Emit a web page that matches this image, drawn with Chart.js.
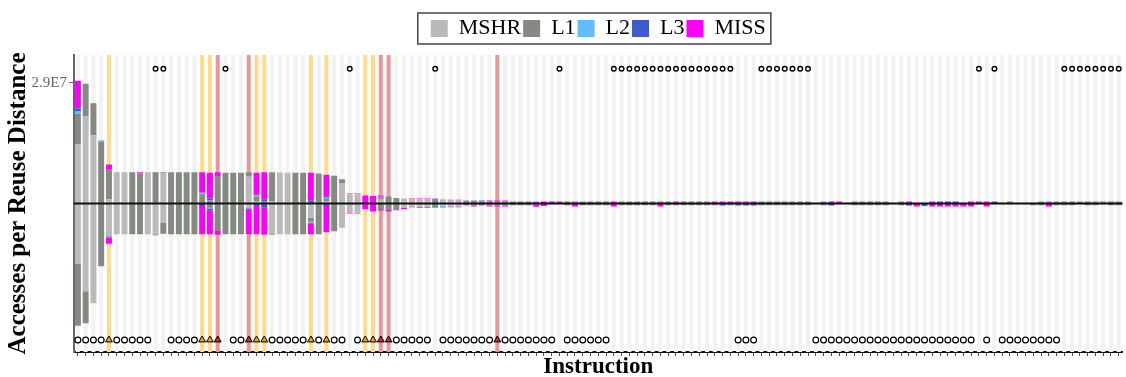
<!DOCTYPE html>
<html>
<head>
<meta charset="utf-8">
<script src="https://cdn.jsdelivr.net/npm/chart.js@4.4.1/dist/chart.umd.min.js"></script>
<style>
  html, body { margin: 0; padding: 0; background: #fff; overflow: hidden; }
  #wrap { width: 1128px; height: 377px; }
</style>
</head>
<body>
<div id="wrap"><canvas id="myChart" width="1128" height="377"></canvas></div>
<script>
const ctx = document.getElementById('myChart');

// one category per instruction (135 of them)
const instructions = [];
for (let i = 1; i <= 135; i++) instructions.push(String(i));

// accesses per reuse distance, in millions. upper half of each bar
const upMSHR = [14.2,20.9,16.4,0,1.0,7.5,7.5,0,0,7.5,
  0,7.2,0,0,0,0,0,0,0,0,
  0,0,6.5,0.5,0,0.5,7.2,7.4,0,0,
  0,0,0.5,0,4.8,2.2,2.2,0,0,1.0,
  0,0,1.2,1.0,1.0,1.0,0,1.0,0.7,0.7,
  0,0,0,0,0,0,0,0,0,0, 0,0,0,0,0,0,0,0,0,0,
  0,0,0,0,0,0,0,0,0,0, 0,0,0,0,0,0,0,0,0,0,
  0,0,0,0,0,0,0,0,0,0, 0,0,0,0,0,0,0,0,0,0,
  0,0,0,0,0,0,0,0,0,0, 0,0,0,0,0,0,0,0,0,0,
  0,0,0,0,0]
const upL1 = [7.4,7.9,7.7,14.9,7.1,0,0,7.5,7.2,0,
  7.5,0.3,7.5,7.5,7.5,7.5,2.2,0.6,6.5,7.4,
  7.4,7.4,1.0,1.2,0.5,7.0,0.2,0,7.4,7.4,
  0.2,7.2,0.7,6.7,1.0,0,0,0,0,0.4,
  1.7,1.3,0,0,0,0,1.2,0,0,0,
  0.7,0.7,0.5,0.5,0.5,0.5,0.5,0.5,0.5,0.5,
  0,0,0,0.5,0.5,0.5,0.5,0.5,0.5,0,
  0.5,0.5,0.5,0.5,0.5,0.5,0.5,0,0.5,0.5,
  0.5,0.5,0,0,0,0,0,0,0.5,0.5,
  0.5,0.5,0.5,0.5,0.5,0.2,0.5,0,0,0.2,
  0.5,0.5,0.5,0.5,0.5,0.2,0.5,0,0.2,0.2,
  0,0,0,0,0.2,0,0,0,0,0.2,
  0.5,0.2,0.2,0.2,0.5,0.5,0.5,0.5,0.5,0.5,
  0.5,0.5,0.5,0.5,0.5]
const upL2 = [0.5,0,0,0.3,0,0,0,0,0,0,
  0,0,0,0,0,0,0.4,0.1,0,0,
  0,0,0,0.2,0,0,0,0,0,0,
  0,0,0.2,0,0,0,0,0,0,0.2,
  0,0,0,0,0,0,0,0,0,0, 0,0,0,0,0,0,0,0,0,0,
  0,0,0,0,0,0,0,0,0,0, 0,0,0,0,0,0,0,0,0,0,
  0,0,0,0,0,0,0,0,0,0, 0,0,0,0,0,0,0,0,0,0,
  0,0,0,0,0,0,0,0,0,0, 0,0,0,0,0,0,0,0,0,0,
  0,0,0,0,0,0,0,0,0,0, 0,0,0,0,0]
const upL3 = [0.8,0,0,0,0,0,0,0,0,0,
  0,0,0,0,0,0,0,0.5,0,0,
  0,0,0,0.2,0.5,0,0,0,0,0,
  0.5,0,0.2,0,0,0,0,0,0,0,
  0,0,0,0,0,0,0,0,0,0,
  0,0,0.2,0,0,0,0,0,0,0,
  0,0,0,0,0,0,0,0,0,0, 0,0,0,0,0,0,0,0,0,0,
  0,0,0,0,0,0,0,0,0,0, 0,0,0,0,0,0,0,0,0,0,
  0,0,0,0,0,0,0,0,0,0,
  0,0.5,0.5,0.5,0,0,0,0,0.5,0,
  0,0,0,0,0,0,0,0,0,0, 0,0,0,0,0]
const upMISS = [6.6,0,0,0,1.3,0,0,0,0.3,0,
  0,0,0,0,0,0,4.9,6.2,1.0,0,
  0,0,0,5.3,6.5,0,0,0,0,0,
  6.7,0,5.3,0,0,0.2,0.2,1.9,1.8,0.3,
  0,0,0,0.2,0.2,0.2,0,0,0.2,0.2,
  0,0,0,0.2,0.2,0.2,0,0,0,0,
  0.5,0.5,0.5,0,0,0,0,0,0,0.5,
  0,0,0,0,0,0,0,0.5,0,0,
  0,0,0.5,0.5,0.5,0.5,0.5,0.5,0,0,
  0,0,0,0,0,0,0,0.5,0.5,0,
  0,0,0,0,0,0,0,0.5,0,0,
  0.5,0,0,0,0,0.5,0.5,0.5,0,0,
  0,0,0,0,0,0,0,0,0,0, 0,0,0,0,0]

// lower half of each bar (drawn below the zero line)
const lowMSHR = [14.4,21.1,24.0,0,7.8,7.4,7.4,0,0,7.4,
  7.4,4.7,0,0,0,0,0,0,0,0.2,
  0,0,1.0,0,0,7.4,7.4,7.4,0,0,
  3.4,0,0,0,5.8,2.2,2.2,0,0,0,
  0,0,1.1,1.0,0.8,0.8,0,0.5,0.7,0.7,
  0,0,0,0,0,0,0,0,0,0, 0,0,0,0,0,0,0,0,0,0,
  0,0,0,0,0,0,0,0,0,0, 0,0,0,0,0,0,0,0,0,0,
  0,0,0,0,0,0,0,0,0,0, 0,0,0,0,0,0,0,0,0,0,
  0,0,0,0,0,0,0,0,0,0, 0,0,0,0,0,0,0,0,0,0,
  0,0,0,0,0]
const lowL1 = [15.0,7.7,0,15.1,0.2,0,0,7.4,7.4,0,
  0.25,2.6,7.4,7.4,7.4,7.4,0,1.0,6.5,7.2,
  7.4,7.4,0,0,0,0.2,0,0,7.4,7.4,
  1.0,7.4,0,6.7,0,0,0,0.2,0,1.4,
  1.5,1.4,0,0,0,0,1.0,0,0,0,
  0.5,0.5,0.5,0.5,0.5,0.5,0.45,0.45,0.45,0.2,
  0,0.2,0.2,0.45,0,0.45,0.45,0.45,0.45,0,
  0.45,0.45,0.45,0.45,0.45,0,0.45,0.45,0.45,0.45,
  0.45,0.45,0.45,0,0.45,0,0,0,0.45,0.45,
  0.45,0.45,0.45,0.45,0.45,0.2,0.45,0,0.2,0.2,
  0.45,0.45,0.45,0.45,0.45,0.2,0.45,0,0,0,
  0,0,0,0,0,0,0.2,0,0.2,0.2,
  0.2,0.2,0.2,0.45,0.45,0,0.45,0.45,0.45,0.2,
  0.45,0.45,0.2,0.45,0.45]
const lowL2 = [0,0,0,0,0.1,0,0,0,0,0,
  0,0,0,0,0,0,0,0.2,0,0,
  0,0,0.2,0,0,0,0,0,0,0,
  0.2,0,0,0,0,0,0,0,0,0,
  0,0,0,0,0,0,0,0.5,0,0,
  0,0,0,0,0,0,0,0,0,0, 0,0,0,0,0,0,0,0,0,0,
  0,0,0,0,0,0,0,0,0,0, 0,0,0,0,0,0,0,0,0,0,
  0,0,0,0,0,0,0,0,0,0, 0,0,0,0,0,0,0,0,0,0,
  0,0,0,0,0,0,0,0,0,0, 0,0,0,0,0,0,0,0,0,0,
  0,0,0,0,0]
const lowL3 = [0,0,0,0,0.1,0,0,0,0,0,
  0,0,0,0,0,0,0.6,0.4,0,0,
  0,0,0.2,0.6,1.0,0,0,0,0,0,
  0.2,0,0.6,0,0,0,0,0,0,0,
  0,0,0,0,0,0,0,0,0,0, 0,0,0,0,0,0,0,0,0,0,
  0,0,0,0,0,0,0,0,0,0, 0,0,0,0,0,0,0,0,0,0,
  0,0,0,0.5,0,0.5,0.5,0.5,0,0,
  0,0,0,0,0,0,0,0.5,0,0,
  0,0,0,0,0,0,0,0.5,0,0.6,
  0,0,0,0,0,0,0,0,0,0, 0,0,0,0,0,0,0,0,0,0,
  0,0,0,0,0]
const lowMISS = [0,0,0,0,1.5,0,0,0,0,0,
  0,0,0,0,0,0,6.8,5.8,1.0,0,
  0,0,6.0,6.8,6.5,0,0,0,0,0,
  2.6,0,6.3,0,0,0.2,0.2,1.2,1.9,0.3,
  0.4,0.2,0.3,0,0.2,0.2,0,0,0.2,0.2,
  0,0.2,0,0.2,0.2,0.2,0,0,0,0.6,
  0.6,0,0,0,0.7,0,0,0,0,0.7,
  0,0,0,0,0,0.7,0,0,0,0,
  0,0,0,0,0,0,0,0,0,0, 0,0,0,0,0,0,0,0,0,0,
  0,0,0,0,0,0,0,0,0.7,0,
  0.7,0.7,0.7,0.7,0.7,0.7,0,0.7,0,0,
  0,0,0,0,0,0.7,0,0,0,0,
  0,0,0,0,0]

// marker rows: which instructions get a mark on top, and which get triangles below
const topMarks = [10,11,19,35,46,62,69,70,71,72,73,74,75,76,77,78,79,80,81,82,83,84,
  88,89,90,91,92,93,94,116,118,127,128,129,130,131,132,133,134]
const orangeMarks = [4,16,17,23,24,30,32,37,38]
const redMarks = [18,22,39,40,54]

const Y_LIM = 35.7
const TOP_ROW = 32.4
const BOTTOM_ROW = -32.8

const names = ['MSHR', 'L1', 'L2', 'L3', 'MISS']
const colors = ['#bababa', '#858a82', '#66bbff', '#3b5ecc', '#ff00ff']
const upper = [upMSHR, upL1, upL2, upL3, upMISS]
const lower = [lowMSHR, lowL1, lowL2, lowL3, lowMISS]

function markRow(test, y) {
  return instructions.map((_, i) => test(i) ? y : null)
}
const isTop = i => topMarks.includes(i)
const isOrange = i => orangeMarks.includes(i)
const isRed = i => redMarks.includes(i)

const datasets = []
names.forEach((n, k) => {
  datasets.push({
    label: n, data: upper[k], backgroundColor: colors[k],
    stack: 'acc', order: 1, borderWidth: 0,
    barPercentage: 0.77, categoryPercentage: 1
  })
})
names.forEach((n, k) => {
  datasets.push({
    label: n + ' ', data: lower[k].map(v => -v), backgroundColor: colors[k],
    stack: 'acc', order: 1, borderWidth: 0,
    barPercentage: 0.77, categoryPercentage: 1
  })
})
// background stripe behind every instruction
datasets.push({
  label: 'stripe',
  data: instructions.map(() => [-Y_LIM, Y_LIM]),
  backgroundColor: instructions.map((_, i) => isOrange(i) ? '#ffda8c' : isRed(i) ? '#e99898' : '#f2f2f2'),
  yAxisID: 'yb', grouped: false, order: 5, borderWidth: 0,
  barPercentage: 0.52, categoryPercentage: 1
})
datasets.push({
  type: 'line', label: 'top', data: markRow(isTop, TOP_ROW), yAxisID: 'yb', order: 0,
  showLine: false, pointStyle: 'circle', pointRadius: 2.3, pointBorderWidth: 1.4,
  pointBackgroundColor: '#fff', pointBorderColor: '#000'
})
datasets.push({
  type: 'line', label: 'circ', data: markRow(i => !isTop(i) && !isOrange(i) && !isRed(i), BOTTOM_ROW),
  yAxisID: 'yb', order: 0, showLine: false, pointStyle: 'circle', pointRadius: 2.9, pointBorderWidth: 1.2,
  pointBackgroundColor: '#fff', pointBorderColor: '#000'
})
datasets.push({
  type: 'line', label: 'tri1', data: markRow(isOrange, BOTTOM_ROW), yAxisID: 'yb', order: 0,
  showLine: false, pointStyle: 'triangle', pointRadius: 4, pointBorderWidth: 1,
  pointBackgroundColor: '#f0a400', pointBorderColor: '#000'
})
datasets.push({
  type: 'line', label: 'tri2', data: markRow(isRed, BOTTOM_ROW), yAxisID: 'yb', order: 0,
  showLine: false, pointStyle: 'triangle', pointRadius: 4, pointBorderWidth: 1,
  pointBackgroundColor: '#d02a2a', pointBorderColor: '#000'
})

// black line through zero
const zeroLine = {
  id: 'zeroLine',
  afterDatasetsDraw(chart) {
    const c = chart.ctx, a = chart.chartArea
    const py = chart.scales.y.getPixelForValue(0)
    c.save()
    c.strokeStyle = '#111'
    c.lineWidth = 2.2
    c.beginPath()
    c.moveTo(a.left, py)
    c.lineTo(a.right, py)
    c.stroke()
    c.restore()
  }
}

// frame around the legend
const legendFrame = {
  id: 'legendFrame',
  afterDraw(chart) {
    const hb = chart.legend && chart.legend.legendHitBoxes
    if (!hb || !hb.length) return
    const first = hb[0], last = hb[hb.length - 1]
    const midY = first.top + first.height / 2
    const c = chart.ctx
    c.save()
    c.strokeStyle = '#444'
    c.lineWidth = 1.5
    c.strokeRect(first.left - 13, midY - 15.5, last.left + last.width - first.left + 18, 31)
    c.restore()
  }
}

const serif = 'Liberation Serif, Times New Roman, serif'

new Chart(ctx, {
  type: 'bar',
  data: { labels: instructions, datasets: datasets },
  options: {
    responsive: false,
    animation: false,
    devicePixelRatio: 1,
    layout: { padding: { top: 15.5, left: 0, right: 0, bottom: 0 } },
    plugins: {
      tooltip: { enabled: false },
      legend: {
        position: 'top', fullSize: false,
        labels: {
          filter: item => item.datasetIndex < 5,
          boxWidth: 17, boxHeight: 17, padding: 2,
          color: '#000', font: { family: serif, size: 22 }
        }
      },
      subtitle: {
        display: true, text: '', position: 'top', weight: 500, fullSize: false,
        padding: 0, font: { size: 5.5, lineHeight: 1 }
      }
    },
    scales: {
      x: {
        stacked: true,
        offset: true,
        grid: { drawOnChartArea: false, drawTicks: true, tickLength: 4, tickColor: '#555', offset: false },
        border: { display: true, color: '#111', width: 2 },
        ticks: { display: false, autoSkip: false },
        title: {
          display: true, text: 'Instruction', color: '#000', padding: { top: 0, bottom: -2 },
          font: { family: serif, size: 23, weight: 'bold', lineHeight: 1 }
        },
        afterFit(scale) { scale.height = 25 }
      },
      y: {
        stacked: true, min: -Y_LIM, max: Y_LIM,
        afterBuildTicks(scale) { scale.ticks = [{ value: 29 }] },
        grid: { drawOnChartArea: false, tickLength: 5, tickColor: '#666' },
        border: { color: '#666', width: 2 },
        ticks: {
          color: '#666', padding: 2, font: { family: serif, size: 15 },
          callback: v => (v * 1e6).toExponential(1).toUpperCase().replace('E+', 'E')
        },
        title: {
          display: true, text: 'Accesses per Reuse Distance', color: '#000',
          padding: { top: 4, bottom: 0 },
          font: { family: serif, size: 25, weight: 'bold' }
        },
        afterFit(scale) { scale.width = 74 }
      },
      yb: { display: false, min: -Y_LIM, max: Y_LIM }
    }
  },
  plugins: [zeroLine, legendFrame]
});
</script>
</body>
</html>
